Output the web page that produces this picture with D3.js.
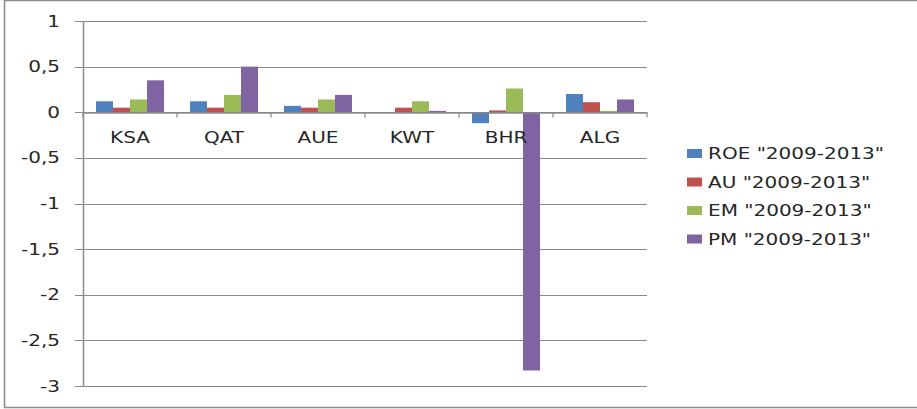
<!DOCTYPE html>
<html>
<head>
<meta charset="utf-8">
<script src="https://cdn.jsdelivr.net/npm/d3@7"></script>
<style>
  body { margin: 0; background: #fff; }
  text { font-family: "DejaVu Sans", Verdana, sans-serif; fill: #262626; }
</style>
</head>
<body>
<div id="chart"></div>
<script>
/* Bar chart: ratios per country, 2009-2013 */

var countries = ['KSA', 'QAT', 'AUE', 'KWT', 'BHR', 'ALG'];
var seriesNames = ['ROE "2009-2013"', 'AU "2009-2013"', 'EM "2009-2013"', 'PM "2009-2013"'];
var roe = [0.12, 0.12, 0.07, 0, -0.12, 0.20];
var au = [0.05, 0.05, 0.05, 0.05, 0.02, 0.11];
var em = [0.14, 0.19, 0.14, 0.12, 0.26, 0.015];
var pm = [0.35, 0.50, 0.19, 0.015, -2.83, 0.14];
var yTicks = [1, 0.5, 0, -0.5, -1, -1.5, -2, -2.5, -3];
var colors = ['#4F81BD', '#C0504D', '#9BBB59', '#8064A2'];

var seriesValues = [roe, au, em, pm];

var width = 917;
var height = 409;
var stretch = 1.25; // the picture's text is wide

var svg = d3.select('#chart').append('svg')
  .attr('width', width)
  .attr('height', height);

// outer frame
svg.append('rect')
  .attr('x', 4.5).attr('y', 0.5)
  .attr('width', 930).attr('height', 407)
  .attr('fill', 'none')
  .attr('stroke', '#8c8c8c')
  .attr('stroke-width', 1.5);

var plotLeft = 83;
var plotRight = 647;

var y = d3.scaleLinear().domain([-3, 1]).range([386, 21]);

var x0 = d3.scaleBand()
  .domain(countries)
  .range([plotLeft, plotRight])
  .paddingInner(0.2766)
  .paddingOuter(0.1383);

var x1 = d3.scaleBand()
  .domain(d3.range(seriesNames.length))
  .range([0, x0.bandwidth()]);

// gridlines
svg.append('g').selectAll('line')
  .data(yTicks)
  .enter().append('line')
  .attr('x1', plotLeft - 8)
  .attr('x2', plotRight)
  .attr('y1', function(d) { return Math.round(y(d)) + 0.5; })
  .attr('y2', function(d) { return Math.round(y(d)) + 0.5; })
  .attr('stroke', '#8a8a8a')
  .attr('stroke-width', 1.2);

// y axis
var yAxis = d3.axisLeft(y)
  .tickValues(yTicks)
  .tickSize(0)
  .tickPadding(22)
  .tickFormat(function(d) { return String(d).replace('.', ','); });

var gy = svg.append('g')
  .attr('transform', 'translate(' + plotLeft + ',0)')
  .call(yAxis);
gy.select('.domain').attr('stroke', '#8a8a8a').attr('stroke-width', 1.5);
gy.selectAll('text')
  .style('font-size', '16px')
  .attr('fill', '#262626')
  .attr('x', 0)
  .attr('transform', 'translate(-23,0) scale(' + stretch + ',1)');

// bars
var groups = svg.append('g').selectAll('g')
  .data(countries)
  .enter().append('g')
  .attr('transform', function(d) { return 'translate(' + x0(d) + ',0)'; });

groups.selectAll('rect')
  .data(function(d, i) {
    return seriesValues.map(function(s, k) { return { k: k, v: s[i] }; });
  })
  .enter().append('rect')
  .attr('x', function(d) { return x1(d.k); })
  .attr('width', x1.bandwidth())
  .attr('y', function(d) { return y(Math.max(0, d.v)); })
  .attr('height', function(d) { return Math.abs(y(d.v) - y(0)); })
  .attr('fill', function(d) { return colors[d.k]; });

// x axis on zero line
var xAxis = d3.axisBottom(x0).tickSize(0).tickPadding(19);
var gx = svg.append('g')
  .attr('transform', 'translate(0,' + (Math.round(y(0)) + 0.5) + ')')
  .call(xAxis);
gx.select('.domain').attr('stroke', '#8a8a8a').attr('stroke-width', 1.5);
gx.selectAll('text')
  .style('font-size', '16px')
  .attr('fill', '#262626')
  .attr('transform', 'scale(' + stretch + ',1)');

// small tick marks between categories
var boundaries = countries.map(function(c) {
  return x0(c) - x0.step() * x0.paddingOuter();
});
boundaries.push(plotRight);
gx.selectAll('.sep')
  .data(boundaries)
  .enter().append('line')
  .attr('class', 'sep')
  .attr('x1', function(d) { return d; })
  .attr('x2', function(d) { return d; })
  .attr('y1', 0)
  .attr('y2', 5)
  .attr('stroke', '#8a8a8a')
  .attr('stroke-width', 1.2);

// legend
var legend = svg.append('g')
  .attr('transform', 'translate(687,153)');

var item = legend.selectAll('g')
  .data(seriesNames)
  .enter().append('g')
  .attr('transform', function(d, i) { return 'translate(0,' + (i * 28.5) + ')'; });

item.append('rect')
  .attr('x', 0).attr('y', -4)
  .attr('width', 15).attr('height', 9)
  .attr('fill', function(d, i) { return colors[i]; });

item.append('text')
  .attr('transform', 'translate(21,6) scale(' + stretch + ',1)')
  .style('font-size', '16px')
  .text(function(d) { return d; });
</script>
</body>
</html>
